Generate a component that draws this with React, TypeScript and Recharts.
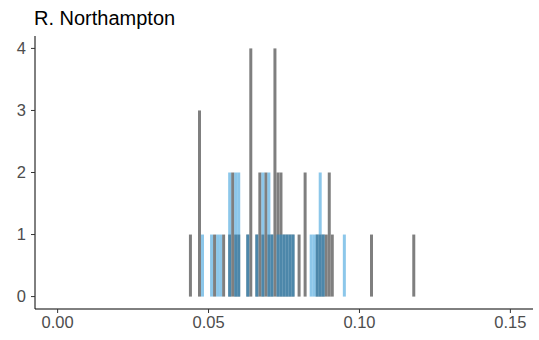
import React from 'react';
import { ComposedChart, Bar, XAxis, YAxis } from 'recharts';

// histogram bin midpoints (binwidth 0.001) and counts per group
const binMids = [
  0.044, 0.047, 0.048, 0.051, 0.052, 0.053, 0.054, 0.055, 0.057, 0.058,
  0.059, 0.060, 0.063, 0.064, 0.066, 0.067, 0.068, 0.069, 0.070, 0.071,
  0.072, 0.073, 0.074, 0.075, 0.076, 0.077, 0.078, 0.080, 0.082, 0.084,
  0.085, 0.086, 0.087, 0.088, 0.089, 0.090, 0.091, 0.095, 0.104, 0.118,
];
const grayCounts = [
  1, 3, 0, 0, 1, 0, 0, 1, 1, 2,
  1, 1, 1, 4, 1, 2, 1, 2, 1, 1,
  4, 2, 2, 1, 1, 1, 1, 1, 2, 0,
  0, 1, 1, 1, 1, 2, 1, 0, 1, 1,
];
const blueCounts = [
  0, 0, 1, 1, 0, 1, 1, 0, 2, 0,
  2, 2, 1, 0, 1, 0, 2, 0, 2, 1,
  0, 1, 1, 1, 1, 1, 1, 0, 0, 1,
  1, 1, 2, 1, 0, 0, 0, 1, 0, 0,
];
const xTicks = [0, 0.05, 0.1, 0.15];
const yTicks = [0, 1, 2, 3, 4];

const chartData = binMids.map((x, i) => ({
  x,
  gray: grayCounts[i] > 0 ? grayCounts[i] : null,
  blue: blueCounts[i] > 0 ? blueCounts[i] : null,
}));

const font = "'Liberation Sans', Arial, Helvetica, sans-serif";
const tickStyle = { fill: '#4d4d4d', fontSize: 16.5, fontFamily: font };

const App: React.FC = () => {
  return (
    <div style={{ position: 'absolute', left: 0, top: 0, width: 539, height: 340, background: '#fff' }}>
      <div style={{
        position: 'absolute',
        left: 34,
        top: 8,
        fontSize: 20,
        lineHeight: '20px',
        fontFamily: font,
        color: '#000',
        whiteSpace: 'nowrap'
      }}>R. Northampton</div>
      <ComposedChart
        width={539}
        height={340}
        data={chartData}
        margin={{ top: 36, right: 6, left: 0, bottom: 1 }}
      >
        <XAxis
          xAxisId="g"
          dataKey="x"
          type="number"
          domain={[-0.0075, 0.1575]}
          allowDataOverflow
          ticks={xTicks}
          tickFormatter={(v: number) => v.toFixed(2)}
          tick={tickStyle}
          tickSize={4}
          tickMargin={3}
          height={30}
          stroke="#000"
          tickLine={{ stroke: '#333' }}
        />
        <XAxis
          xAxisId="b"
          dataKey="x"
          type="number"
          orientation="top"
          height={0}
          domain={[-0.0075, 0.1575]}
          allowDataOverflow
          hide
        />
        <YAxis
          type="number"
          domain={[-0.2, 4.2]}
          allowDataOverflow
          ticks={yTicks}
          tick={tickStyle}
          tickSize={4}
          tickMargin={5}
          width={35}
          stroke="#000"
          tickLine={{ stroke: '#333' }}
        />
        <Bar xAxisId="g" dataKey="gray" fill="#7f7f7f" barSize={3} isAnimationActive={false} />
        <Bar xAxisId="b" dataKey="blue" fill="#1a8fd6" fillOpacity={0.5} barSize={3} isAnimationActive={false} />
      </ComposedChart>
    </div>
  );
};

export default App;
